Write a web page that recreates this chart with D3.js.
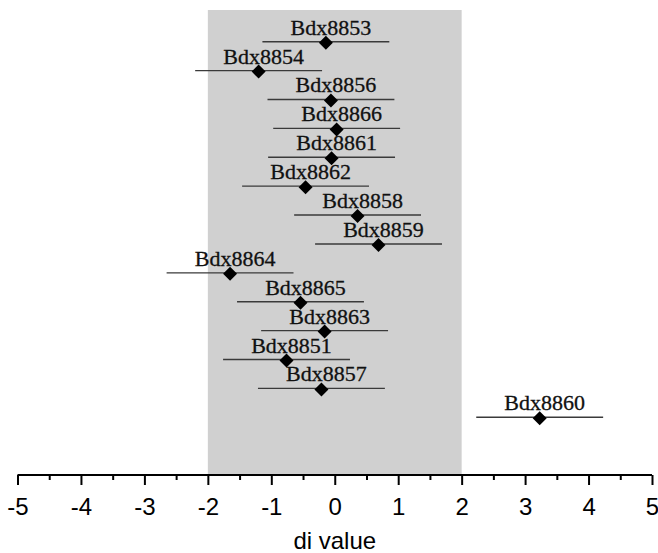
<!DOCTYPE html>
<html>
<head>
<meta charset="utf-8">
<script src="https://cdn.jsdelivr.net/npm/d3@7"></script>
<style>
  html, body { margin: 0; padding: 0; background: #fff; }
  svg { display: block; }
</style>
</head>
<body>
<svg id="chart" width="658" height="553"></svg>
<script>
const markers = ["Bdx8853","Bdx8854","Bdx8856","Bdx8866","Bdx8861","Bdx8862","Bdx8858","Bdx8859","Bdx8864","Bdx8865","Bdx8863","Bdx8851","Bdx8857","Bdx8860"];
const diValues = [-0.14,-1.20,-0.06,0.03,-0.05,-0.46,0.36,0.69,-1.65,-0.54,-0.16,-0.76,-0.21,3.23];
const errors   = [1.0,1.0,1.0,1.0,1.0,1.0,1.0,1.0,1.0,1.0,1.0,1.0,1.0,1.0];
const bandRange = [-2, 2];
const xTicks = [-5,-4,-3,-2,-1,0,1,2,3,4,5];
const xMinorTicks = [-4.5,-3.5,-2.5,-1.5,-0.5,0.5,1.5,2.5,3.5,4.5];
const xLabel = "di value";

const svg = d3.select("#chart");
const x = d3.scaleLinear().domain([-5, 5]).range([17.5, 652]);
const y = d3.scalePoint().domain(markers).range([41.7, 417.3]);
const axisY = 475;
const bandTop = 10;

// shaded band
svg.append("rect")
  .attr("x", x(bandRange[0]))
  .attr("y", bandTop)
  .attr("width", x(bandRange[1]) - x(bandRange[0]))
  .attr("height", axisY - bandTop)
  .attr("fill", "#d0d0d0");

const rows = markers.map((m, i) => ({name: m, v: diValues[i], e: errors[i]}));

// error bars
svg.append("g").selectAll("line")
  .data(rows).join("line")
  .attr("x1", d => x(d.v - d.e))
  .attr("x2", d => x(d.v + d.e))
  .attr("y1", d => y(d.name))
  .attr("y2", d => y(d.name))
  .attr("stroke", "#3a3a3a")
  .attr("stroke-width", 1.4);

// labels
svg.append("g").selectAll("text")
  .data(rows).join("text")
  .attr("x", d => x(d.v) + 5)
  .attr("y", d => y(d.name) - 7)
  .attr("text-anchor", "middle")
  .attr("font-family", "'Liberation Serif', 'Times New Roman', serif")
  .attr("font-size", 22)
  .attr("fill", "#111")
  .attr("stroke", "#111")
  .attr("stroke-width", 0.3)
  .text(d => d.name);

// diamonds
const diamond = d3.symbol().type(d3.symbolSquare).size(98);
svg.append("g").selectAll("path")
  .data(rows).join("path")
  .attr("d", diamond)
  .attr("transform", d => `translate(${x(d.v)},${y(d.name) + 1}) rotate(45)`)
  .attr("fill", "#000");

// axis
const axis = d3.axisBottom(x).tickValues(xTicks).tickSize(10).tickPadding(13)
  .tickFormat(d => String(d));
const gAxis = svg.append("g").attr("transform", `translate(0,${axisY})`).call(axis);
gAxis.select(".domain").attr("stroke", "#000").attr("stroke-width", 2)
  .attr("d", `M${x(-5)},0H${x(5)}`);
gAxis.selectAll(".tick line").attr("stroke", "#000").attr("stroke-width", 2);
gAxis.selectAll(".tick text")
  .attr("font-family", "'Liberation Sans', Arial, sans-serif")
  .attr("font-size", 24)
  .attr("fill", "#000");

const minor = d3.axisBottom(x).tickValues(xMinorTicks).tickSize(5).tickFormat("");
const gMinor = svg.append("g").attr("transform", `translate(0,${axisY})`).call(minor);
gMinor.select(".domain").remove();
gMinor.selectAll(".tick line").attr("stroke", "#000").attr("stroke-width", 2);

svg.append("text")
  .attr("x", x(0))
  .attr("y", 549)
  .attr("text-anchor", "middle")
  .attr("font-family", "'Liberation Sans', Arial, sans-serif")
  .attr("font-size", 24)
  .attr("fill", "#000")
  .text(xLabel);
</script>
</body>
</html>
